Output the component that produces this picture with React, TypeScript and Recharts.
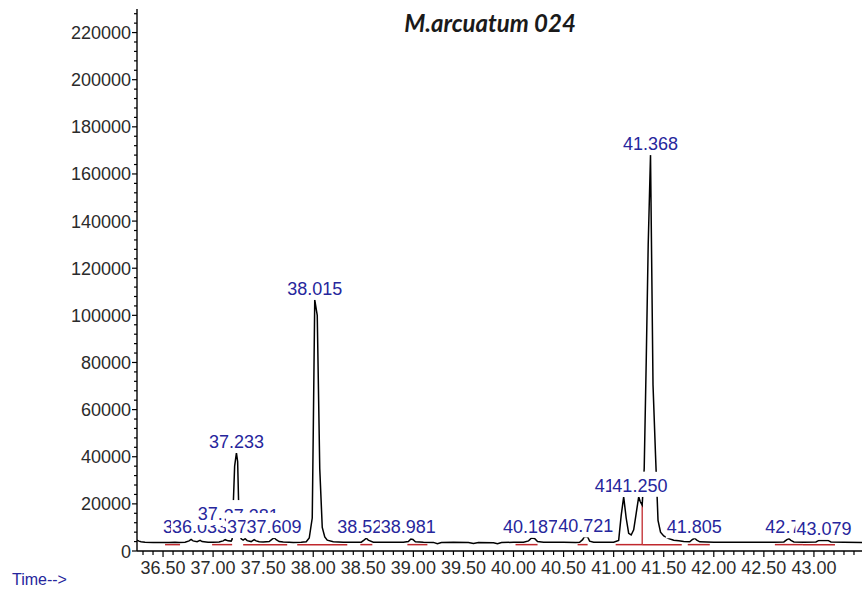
import React from "react";
import { ComposedChart, Line, Scatter, XAxis, YAxis, ReferenceLine } from "recharts";

// Chromatogram trace: [retention time (min), abundance]
const trace: [number, number][] = [
  [36.24, 4600], [36.26, 4200], [36.28, 3900], [36.32, 3700], [36.4, 3650],
  [36.5, 3650], [36.56, 3600], [36.62, 3750], [36.66, 3650], [36.72, 3750],
  [36.76, 4300], [36.78, 4900], [36.8, 4300], [36.84, 3950], [36.87, 4500],
  [36.89, 4000], [36.95, 3750], [37.0, 3700], [37.06, 3800], [37.1, 4300],
  [37.12, 4800], [37.15, 4300], [37.18, 4200], [37.19, 5000], [37.2, 18000],
  [37.215, 36000], [37.233, 41600], [37.245, 38000], [37.255, 20000], [37.268, 7000],
  [37.28, 5200], [37.3, 4600], [37.32, 5200], [37.34, 4400], [37.38, 4000],
  [37.41, 4800], [37.43, 4300], [37.46, 3900], [37.5, 3800], [37.56, 4000],
  [37.59, 5000], [37.61, 5600], [37.63, 4800], [37.66, 4000], [37.7, 3800],
  [37.76, 3700], [37.8, 3600], [37.88, 3700], [37.93, 3900], [37.96, 5500],
  [37.99, 14000], [38.0, 50000], [38.015, 106600], [38.04, 100000], [38.065, 35000],
  [38.09, 10000], [38.115, 6000], [38.14, 4600], [38.2, 3900], [38.3, 3750],
  [38.4, 3700], [38.48, 3750], [38.51, 4700], [38.53, 5400], [38.55, 4600],
  [38.6, 3750], [38.7, 3700], [38.8, 3700], [38.9, 3700], [38.95, 4000],
  [38.975, 5100], [38.995, 4900], [39.02, 3900], [39.1, 3700], [39.2, 3650],
  [39.24, 3100], [39.28, 3600], [39.4, 3700], [39.55, 3650], [39.6, 3200],
  [39.65, 3600], [39.8, 3500], [39.84, 3100], [39.88, 3600], [40.0, 3700],
  [40.1, 3750], [40.15, 4300], [40.18, 5500], [40.21, 5300], [40.24, 4000],
  [40.3, 3750], [40.5, 3700], [40.62, 3600], [40.66, 3700], [40.69, 4800],
  [40.71, 6200], [40.74, 6000], [40.76, 4200], [40.8, 3750], [40.9, 3700],
  [41.0, 3750], [41.05, 4500], [41.075, 15000], [41.1, 23000], [41.125, 14000],
  [41.15, 7500], [41.175, 6800], [41.2, 9000], [41.225, 16000], [41.25, 23000],
  [41.265, 21000], [41.285, 19500], [41.305, 35000], [41.325, 80000], [41.345, 130000],
  [41.368, 168000], [41.393, 70500], [41.418, 40800], [41.443, 13000], [41.468, 8000],
  [41.5, 6400], [41.55, 5300], [41.6, 4600], [41.65, 4300], [41.7, 4000],
  [41.76, 3900], [41.79, 5000], [41.81, 5400], [41.83, 4600], [41.86, 3900],
  [42.0, 3750], [42.2, 3700], [42.4, 3700], [42.6, 3700], [42.7, 3850],
  [42.73, 4800], [42.75, 5200], [42.77, 4500], [42.8, 3850], [42.9, 3750],
  [43.02, 3850], [43.05, 4500], [43.14, 4500], [43.17, 3850], [43.3, 3700],
  [43.48, 3650],
];

// Peak annotations (label anchor time, anchor height, text)
const peakTimes = [36.775, 36.865, 37.114, 37.233, 37.38, 37.414, 37.609, 38.015, 38.515, 38.95, 40.17, 40.721, 41.085, 41.262, 41.368, 41.805, 42.79, 43.1];
const peakHeights = [5500, 5500, 11000, 41600, 10200, 5500, 5500, 106600, 5500, 5500, 5600, 5800, 23000, 23000, 168000, 5400, 5400, 4800];
const peakNames = ["36.775", "36.033", "37.114", "37.233", "37.381", "37.414", "37.609", "38.015", "38.523", "38.981", "40.187", "40.721", "41.103", "41.250", "41.368", "41.805", "42.761", "43.079"];

// Integration baselines (red)
const baselineStarts = [36.52, 36.99, 37.3, 37.84, 38.47, 38.94, 40.02, 40.64, 41.02, 41.285, 41.74, 42.61, 42.89];
const baselineEnds = [36.67, 37.19, 37.74, 38.34, 38.59, 39.14, 40.24, 40.74, 41.285, 41.68, 41.96, 42.89, 43.21];
const baselineLevel = 2700;
const dropTime = 41.285;
const dropTop = 19500;

const xLabelTicks = [36.5, 37.0, 37.5, 38.0, 38.5, 39.0, 39.5, 40.0, 40.5, 41.0, 41.5, 42.0, 42.5, 43.0];
const yLabelTicks = [0, 20000, 40000, 60000, 80000, 100000, 120000, 140000, 160000, 180000, 200000, 220000];

const xTicks = Array.from({ length: 72 }, (_, i) => Math.round((36.3 + i * 0.1) * 10) / 10);
const yTicks = Array.from({ length: 58 }, (_, i) => i * 4000);

const FONT = '"Liberation Sans", Arial, sans-serif';
const BLUE = "#26269c";
const RED = "#c0282d";

const traceData = trace.map(([t, a]) => ({ t, a }));
const labelData = peakTimes.map((t, i) => ({ t, a: peakHeights[i], name: peakNames[i] }));

function textWidth(s: string) {
  let w = 0;
  for (const c of s) w += c === "." ? 5 : 10.01;
  return w;
}

// later labels paint a white box over earlier ones, like the instrument printout
function PeakLabel(props: any) {
  const { cx, cy, payload } = props;
  if (cx == null || cy == null) return null;
  const w = textWidth(payload.name);
  const base = cy - 5;
  return (
    <g>
      <rect x={cx - w / 2 - 1} y={base - 20} width={w + 2} height={25} fill="#fff" />
      <text x={cx} y={base} textAnchor="middle" fontSize={18} fontFamily={FONT} fill={BLUE}>
        {payload.name}
      </text>
    </g>
  );
}

function XTick({ x, y, payload }: any) {
  const v = payload.value;
  const major = xLabelTicks.some((m) => Math.abs(m - v) < 1e-6);
  return (
    <g>
      <line x1={x} x2={x} y1={y} y2={y + (major ? 6 : 4)} stroke="#000" strokeWidth={1.2} />
      {major && (
        <text x={x} y={y + 23} textAnchor="middle" fontSize={18} fontFamily={FONT} fill="#2b2b2b">
          {v.toFixed(2)}
        </text>
      )}
    </g>
  );
}

function YTick({ x, y, payload }: any) {
  const v = payload.value;
  const major = yLabelTicks.includes(v);
  return (
    <g>
      <line x1={x - (major ? 5 : 3)} x2={x} y1={y} y2={y} stroke="#000" strokeWidth={1.2} />
      {major && (
        <text x={x - 6} y={y + 6.5} textAnchor="end" fontSize={18} fontFamily={FONT} fill="#2b2b2b">
          {v}
        </text>
      )}
    </g>
  );
}

export default function App() {
  return (
    <div style={{ position: "absolute", left: 0, top: 0, width: 862, height: 598, background: "#fff" }}>
      <ComposedChart width={862} height={598} margin={{ top: 9, right: 0, bottom: 0, left: 0 }}>
        <XAxis
          dataKey="t"
          type="number"
          domain={[36.24, 43.48]}
          allowDataOverflow
          ticks={xTicks}
          interval={0}
          tickSize={0}
          tickMargin={0}
          tickLine={false}
          tick={<XTick />}
          height={47}
          axisLine={{ stroke: "#000", strokeWidth: 1.4 }}
        />
        <YAxis
          type="number"
          domain={[0, 230000]}
          allowDataOverflow
          ticks={yTicks}
          interval={0}
          tickSize={0}
          tickMargin={0}
          tickLine={false}
          tick={<YTick />}
          width={137}
          axisLine={{ stroke: "#000", strokeWidth: 1.4 }}
        />
        {baselineStarts.map((s, i) => (
          <ReferenceLine
            key={i}
            segment={[
              { x: s, y: baselineLevel },
              { x: baselineEnds[i], y: baselineLevel },
            ]}
            stroke={RED}
            strokeWidth={1.5}
          />
        ))}
        <ReferenceLine
          segment={[
            { x: dropTime, y: baselineLevel },
            { x: dropTime, y: dropTop },
          ]}
          stroke={RED}
          strokeWidth={1.3}
        />
        <Line
          data={traceData}
          dataKey="a"
          type="linear"
          stroke="#000"
          strokeWidth={1.5}
          dot={false}
          isAnimationActive={false}
        />
        <Scatter
          data={labelData}
          dataKey="a"
          shape={(p: any) => <PeakLabel {...p} />}
          isAnimationActive={false}
        />
      </ComposedChart>
      <div
        style={{
          position: "absolute",
          left: 380,
          top: 10,
          width: 220,
          textAlign: "center",
          fontFamily: "Lato, 'Open Sans', sans-serif",
          fontWeight: 700,
          fontStyle: "italic",
          fontSize: 24,
          lineHeight: "26px",
          color: "#1a1a1a",
        }}
      >
        M.arcuatum 024
      </div>
      <div
        style={{
          position: "absolute",
          left: 12,
          top: 571,
          fontFamily: FONT,
          fontSize: 16,
          lineHeight: "18px",
          color: BLUE,
        }}
      >
        Time--&gt;
      </div>
    </div>
  );
}
